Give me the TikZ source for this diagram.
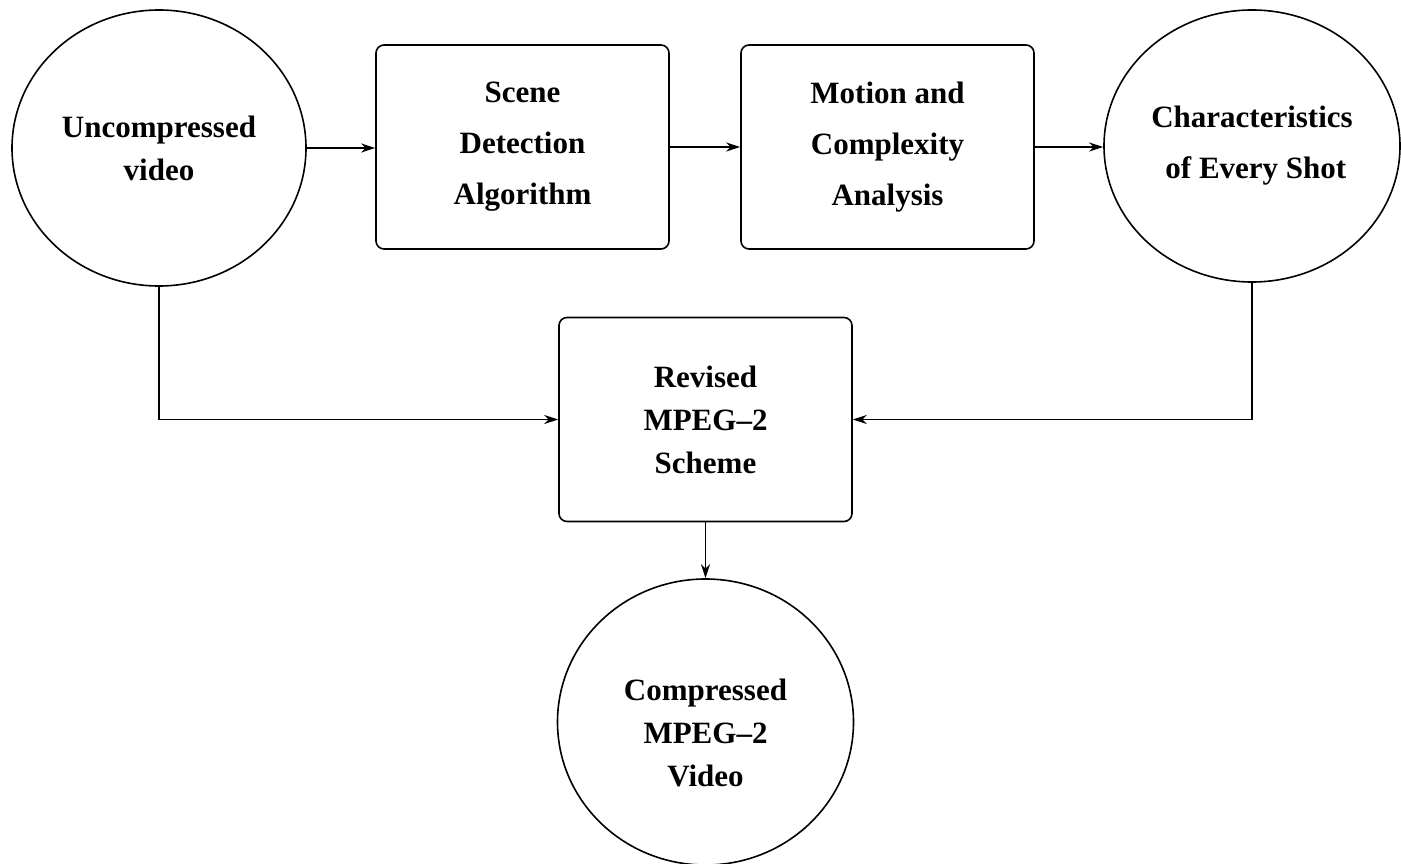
\documentclass[tikz,border=0pt]{standalone}
\usepackage{fontspec}
\setmainfont{Liberation Serif}
\usetikzlibrary{shapes.geometric,arrows.meta}
\begin{document}
\begin{tikzpicture}[x=1pt,y=-1pt,
  line width=1.6pt,
  every node/.style={inner sep=0pt, align=center},
  blob/.style={draw, ellipse, font=\bfseries\fontsize{31}{43}\selectfont},
  stage/.style={draw, rectangle, rounded corners=8pt, minimum width=293pt,
    minimum height=204pt, font=\bfseries\fontsize{31}{51}\selectfont},
  wide/.style={font=\bfseries\fontsize{31}{51}\selectfont},
  flow/.style={-{Stealth[length=14pt,width=9pt]}}]
\useasboundingbox[fill=white] (0,0) rectangle (1401,864);

% data sources and sinks
\node[blob, minimum width=294pt, minimum height=276pt] (u) at (159,148)
  {Uncompressed\\video};
\node[blob, wide, minimum width=296pt, minimum height=272pt] (c) at (1252,146)
  {Characteristics\\\ of Every Shot};
\node[blob, minimum width=296pt, minimum height=286pt] (v) at (705.5,722)
  {\\Compressed\\MPEG--2\\Video};

% processing stages
\node[stage] (b1) at (522.5,147) {Scene\\Detection\\Algorithm};
\node[stage] (b2) at (887.5,147) {Motion and\\Complexity\\Analysis};
\node[stage, font=\bfseries\fontsize{31}{43}\selectfont] (b3) at (705.5,419.5)
  {Revised\\MPEG--2\\Scheme};

% connectors
\draw[flow] (u.east) -- (b1.west |- u.east);
\draw[flow] (b1.east) -- (b2.west);
\draw[flow] (b2.east) -- (c.west |- b2.east);
\draw[flow] (u.south) |- (b3.west);
\draw[flow] (c.south) |- (b3.east);
\draw[flow] (b3.south) -- (v.north);
\end{tikzpicture}
\end{document}
